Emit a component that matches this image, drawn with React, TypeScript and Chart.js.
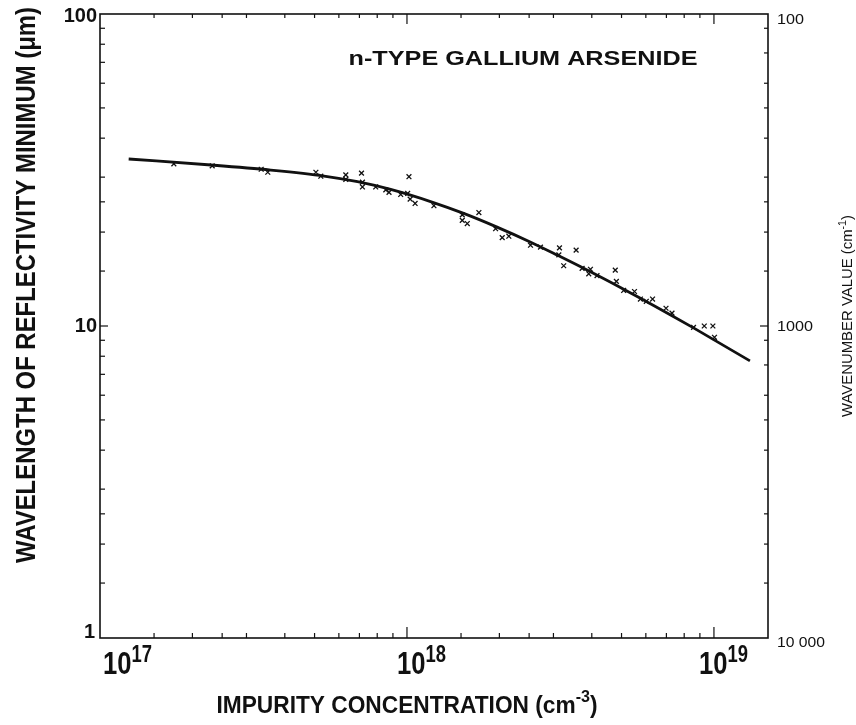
import React, { useEffect, useRef } from "react";
import { Chart, registerables } from "chart.js";

Chart.register(...registerables);

// ---------- data ----------
const curveConc = [1.24e17, 2.3e17, 3.6e17, 5.37e17, 6.9e17, 8.85e17, 1.22e18, 1.53e18, 1.94e18, 2.53e18, 3.12e18, 3.86e18, 5.08e18, 6.36e18, 8.58e18, 1.31e19];
const curveWavelength = [34.3, 32.81, 31.6, 30.24, 29.0, 27.39, 24.87, 22.96, 20.86, 18.56, 16.78, 15.11, 13.12, 11.64, 9.86, 7.73];

const pointConc = [
  1.74e17, 2.32e17, 3.35e17, 3.52e17, 5.05e17, 5.24e17, 6.32e17, 6.32e17, 7.11e17, 7.16e17,
  7.16e17, 7.91e17, 8.53e17, 8.74e17, 9.54e17, 1.015e18, 1.005e18, 1.024e18, 1.063e18, 1.224e18,
  1.514e18, 1.514e18, 1.572e18, 1.715e18, 1.944e18, 2.043e18, 2.147e18, 2.526e18, 2.722e18, 3.139e18,
  3.124e18, 3.24e18, 3.557e18, 3.72e18, 3.96e18, 3.91e18, 4.16e18, 4.77e18, 4.81e18, 5.08e18,
  5.51e18, 5.76e18, 6.02e18, 6.31e18, 6.98e18, 7.3e18, 8.58e18, 9.3e18, 9.92e18, 1.004e19,
];
const pointWavelength = [
  33.1, 32.6, 31.8, 31.1, 31.1, 30.2, 30.5, 29.5, 30.9, 28.9,
  27.9, 27.9, 27.3, 26.8, 26.4, 30.1, 26.6, 25.5, 24.7, 24.3,
  22.7, 21.8, 21.3, 23.1, 20.5, 19.2, 19.4, 18.15, 17.9, 17.8,
  16.9, 15.6, 17.5, 15.3, 15.2, 14.7, 14.5, 15.1, 13.9, 13.0,
  12.9, 12.2, 12.0, 12.2, 11.4, 11.0, 9.9, 10.0, 10.0, 9.2,
];

const concMin = 1e17;
const concMax = 1.5e19;
const concMajorTicks = [1e18, 1e19];
const concMinorTicks = [
  1.5e17, 2e17, 2.5e17, 3e17, 4e17, 5e17, 6e17, 7e17, 8e17, 9e17,
  1.5e18, 2e18, 2.5e18, 3e18, 4e18, 5e18, 6e18, 7e18, 8e18, 9e18,
];
const concLabelValues = [1e17, 1e18, 1e19];
const concLabelExps = ["17", "18", "19"];

const wlMin = 1;
const wlMax = 100;
const wlMajorTicks = [10];
const wlMinorTicks = [1.5, 2, 2.5, 3, 4, 5, 6, 7, 8, 9, 15, 20, 25, 30, 40, 50, 60, 70, 80, 90];
const wlLabelValues = [100, 10, 1];
const wlLabelTexts = ["100", "10", "1"];

const wnMin = 100;
const wnMax = 10000;
const wnMajorTicks = [1000];
const wnMinorTicks = [111.1, 133.3, 166.7, 200, 250, 333.3, 400, 500, 666.7, 1111, 1333, 1667, 2000, 2500, 3333, 4000, 5000, 6667];
const wnLabelValues = [100, 1000, 10000];
const wnLabelTexts = ["100", "1000", "10 000"];

const titleY = "WAVELENGTH OF REFLECTIVITY MINIMUM (\u03BCm)";
const titleX = "IMPURITY CONCENTRATION (cm";
const titleXSup = "-3";
const titleY2 = "WAVENUMBER VALUE (cm";
const titleY2Sup = "-1";
const annotation = "n-TYPE GALLIUM ARSENIDE";

// ---------- drawing helpers ----------
const FONT = '"Liberation Sans", Arial, sans-serif';

type Seg = { text: string; size: number; weight?: string; dy?: number };

function drawRich(
  ctx: CanvasRenderingContext2D,
  segs: Seg[],
  x: number,
  y: number,
  opts: { rot?: number; align?: "left" | "center" | "right"; width?: number }
) {
  ctx.save();
  ctx.translate(x, y);
  if (opts.rot) ctx.rotate(opts.rot);
  const widths: number[] = [];
  let total = 0;
  for (const s of segs) {
    ctx.font = `${s.weight || "normal"} ${s.size}px ${FONT}`;
    const w = ctx.measureText(s.text).width;
    widths.push(w);
    total += w;
  }
  const sc = opts.width ? opts.width / total : 1;
  ctx.scale(sc, 1);
  const align = opts.align || "center";
  let cx = align === "center" ? -total / 2 : align === "right" ? -total : 0;
  ctx.textAlign = "left";
  ctx.textBaseline = "alphabetic";
  ctx.fillStyle = "#111";
  segs.forEach((s, i) => {
    ctx.font = `${s.weight || "normal"} ${s.size}px ${FONT}`;
    ctx.fillText(s.text, cx, s.dy || 0);
    cx += widths[i];
  });
  ctx.restore();
}

const framePlugin = {
  id: "frame",
  afterDraw(chart: any) {
    const ctx: CanvasRenderingContext2D = chart.ctx;
    const { left, right, top, bottom } = chart.chartArea;
    const xs = chart.scales.x;
    const ys = chart.scales.y;
    const y2 = chart.scales.y2;
    ctx.save();
    ctx.strokeStyle = "#111";
    ctx.lineWidth = 1.6;
    ctx.strokeRect(left, top, right - left, bottom - top);

    ctx.lineWidth = 1.2;
    const line = (x1: number, y1: number, x2: number, y2p: number) => {
      ctx.beginPath();
      ctx.moveTo(x1, y1);
      ctx.lineTo(x2, y2p);
      ctx.stroke();
    };
    // bottom & top ticks (inward)
    concMinorTicks.forEach((v) => {
      const px = xs.getPixelForValue(v);
      line(px, bottom, px, bottom - 5);
      line(px, top, px, top + 4);
    });
    concMajorTicks.forEach((v) => {
      const px = xs.getPixelForValue(v);
      line(px, bottom, px, bottom - 11);
      line(px, top, px, top + 10);
    });
    // left ticks
    wlMinorTicks.forEach((v) => {
      const py = ys.getPixelForValue(v);
      line(left, py, left + 5, py);
    });
    wlMajorTicks.forEach((v) => {
      const py = ys.getPixelForValue(v);
      line(left, py, left + 8, py);
    });
    // right ticks
    wnMinorTicks.forEach((v) => {
      const py = y2.getPixelForValue(v);
      line(right, py, right - 4, py);
    });
    wnMajorTicks.forEach((v) => {
      const py = y2.getPixelForValue(v);
      line(right, py, right - 8, py);
    });

    // left tick labels
    const wlDy = [8, 6, 0];
    wlLabelValues.forEach((v, i) => {
      const py = ys.getPixelForValue(v);
      drawRich(ctx, [{ text: wlLabelTexts[i], size: 20, weight: "bold" }], left - 3 - (i === 2 ? 2 : 0), py + wlDy[i], {
        align: "right",
      });
    });
    // right tick labels
    const wnDy = [10, 5, 9];
    const wnW = [27, 36, 48];
    wnLabelValues.forEach((v, i) => {
      const py = y2.getPixelForValue(v);
      drawRich(ctx, [{ text: wnLabelTexts[i], size: 14 }], right + 9, py + wnDy[i], { align: "left", width: wnW[i] });
    });
    // bottom tick labels 10^n
    const concDx = [3, -10, -15];
    concLabelValues.forEach((v, i) => {
      const px = xs.getPixelForValue(v);
      drawRich(
        ctx,
        [
          { text: "10", size: 32, weight: "bold" },
          { text: concLabelExps[i], size: 23, weight: "bold", dy: -12 },
        ],
        px + concDx[i],
        bottom + 36,
        { align: "left", width: 49 }
      );
    });

    // axis titles
    drawRich(ctx, [{ text: titleY, size: 28, weight: "bold" }], 35, 285, { rot: -Math.PI / 2, width: 556 });
    drawRich(
      ctx,
      [
        { text: titleX, size: 24, weight: "bold" },
        { text: titleXSup, size: 17, weight: "bold", dy: -11 },
        { text: ")", size: 24, weight: "bold" },
      ],
      407,
      713,
      { width: 381 }
    );
    drawRich(
      ctx,
      [
        { text: titleY2, size: 14 },
        { text: titleY2Sup, size: 10, dy: -6 },
        { text: ")", size: 14 },
      ],
      852,
      316,
      { rot: -Math.PI / 2, width: 202 }
    );
    drawRich(ctx, [{ text: annotation, size: 21, weight: "bold" }], 523, 65, { width: 349 });
    ctx.restore();
  },
};

export default function App() {
  const ref = useRef<HTMLCanvasElement | null>(null);
  useEffect(() => {
    if (!ref.current) return;
    const chart = new Chart(ref.current, {
      type: "scatter",
      data: {
        datasets: [
          {
            type: "line",
            label: "fit",
            data: curveConc.map((c, i) => ({ x: c, y: curveWavelength[i] })),
            borderColor: "#111",
            borderWidth: 2.8,
            pointRadius: 0,
            tension: 0.4,
            cubicInterpolationMode: "monotone",
            fill: false,
          } as any,
          {
            type: "scatter",
            label: "measured",
            data: pointConc.map((c, i) => ({ x: c, y: pointWavelength[i] })),
            pointStyle: "crossRot",
            pointRadius: 3.4,
            borderColor: "#111",
            backgroundColor: "#111",
            pointBorderWidth: 1.3,
          } as any,
        ],
      },
      options: {
        animation: false,
        responsive: false,
        devicePixelRatio: 1,
        layout: { padding: { top: 14, left: 0, right: 0, bottom: 0 } },
        plugins: { legend: { display: false }, tooltip: { enabled: false } },
        scales: {
          x: {
            type: "logarithmic",
            position: "bottom",
            min: concMin,
            max: concMax,
            ticks: { display: false },
            grid: { display: false },
            border: { display: false },
            afterFit: (s: any) => {
              s.height = 87;
            },
          },
          y: {
            type: "logarithmic",
            position: "left",
            min: wlMin,
            max: wlMax,
            ticks: { display: false },
            grid: { display: false },
            border: { display: false },
            afterFit: (s: any) => {
              s.width = 100;
            },
          },
          y2: {
            type: "logarithmic",
            position: "right",
            reverse: true,
            min: wnMin,
            max: wnMax,
            ticks: { display: false },
            grid: { display: false },
            border: { display: false },
            afterFit: (s: any) => {
              s.width = 88;
            },
          },
        },
      } as any,
      plugins: [framePlugin],
    });
    return () => chart.destroy();
  }, []);
  return (
    <div style={{ position: "fixed", left: 0, top: 0, width: 856, height: 725, background: "#fff" }}>
      <canvas ref={ref} width={856} height={725} style={{ display: "block" }} />
    </div>
  );
}
